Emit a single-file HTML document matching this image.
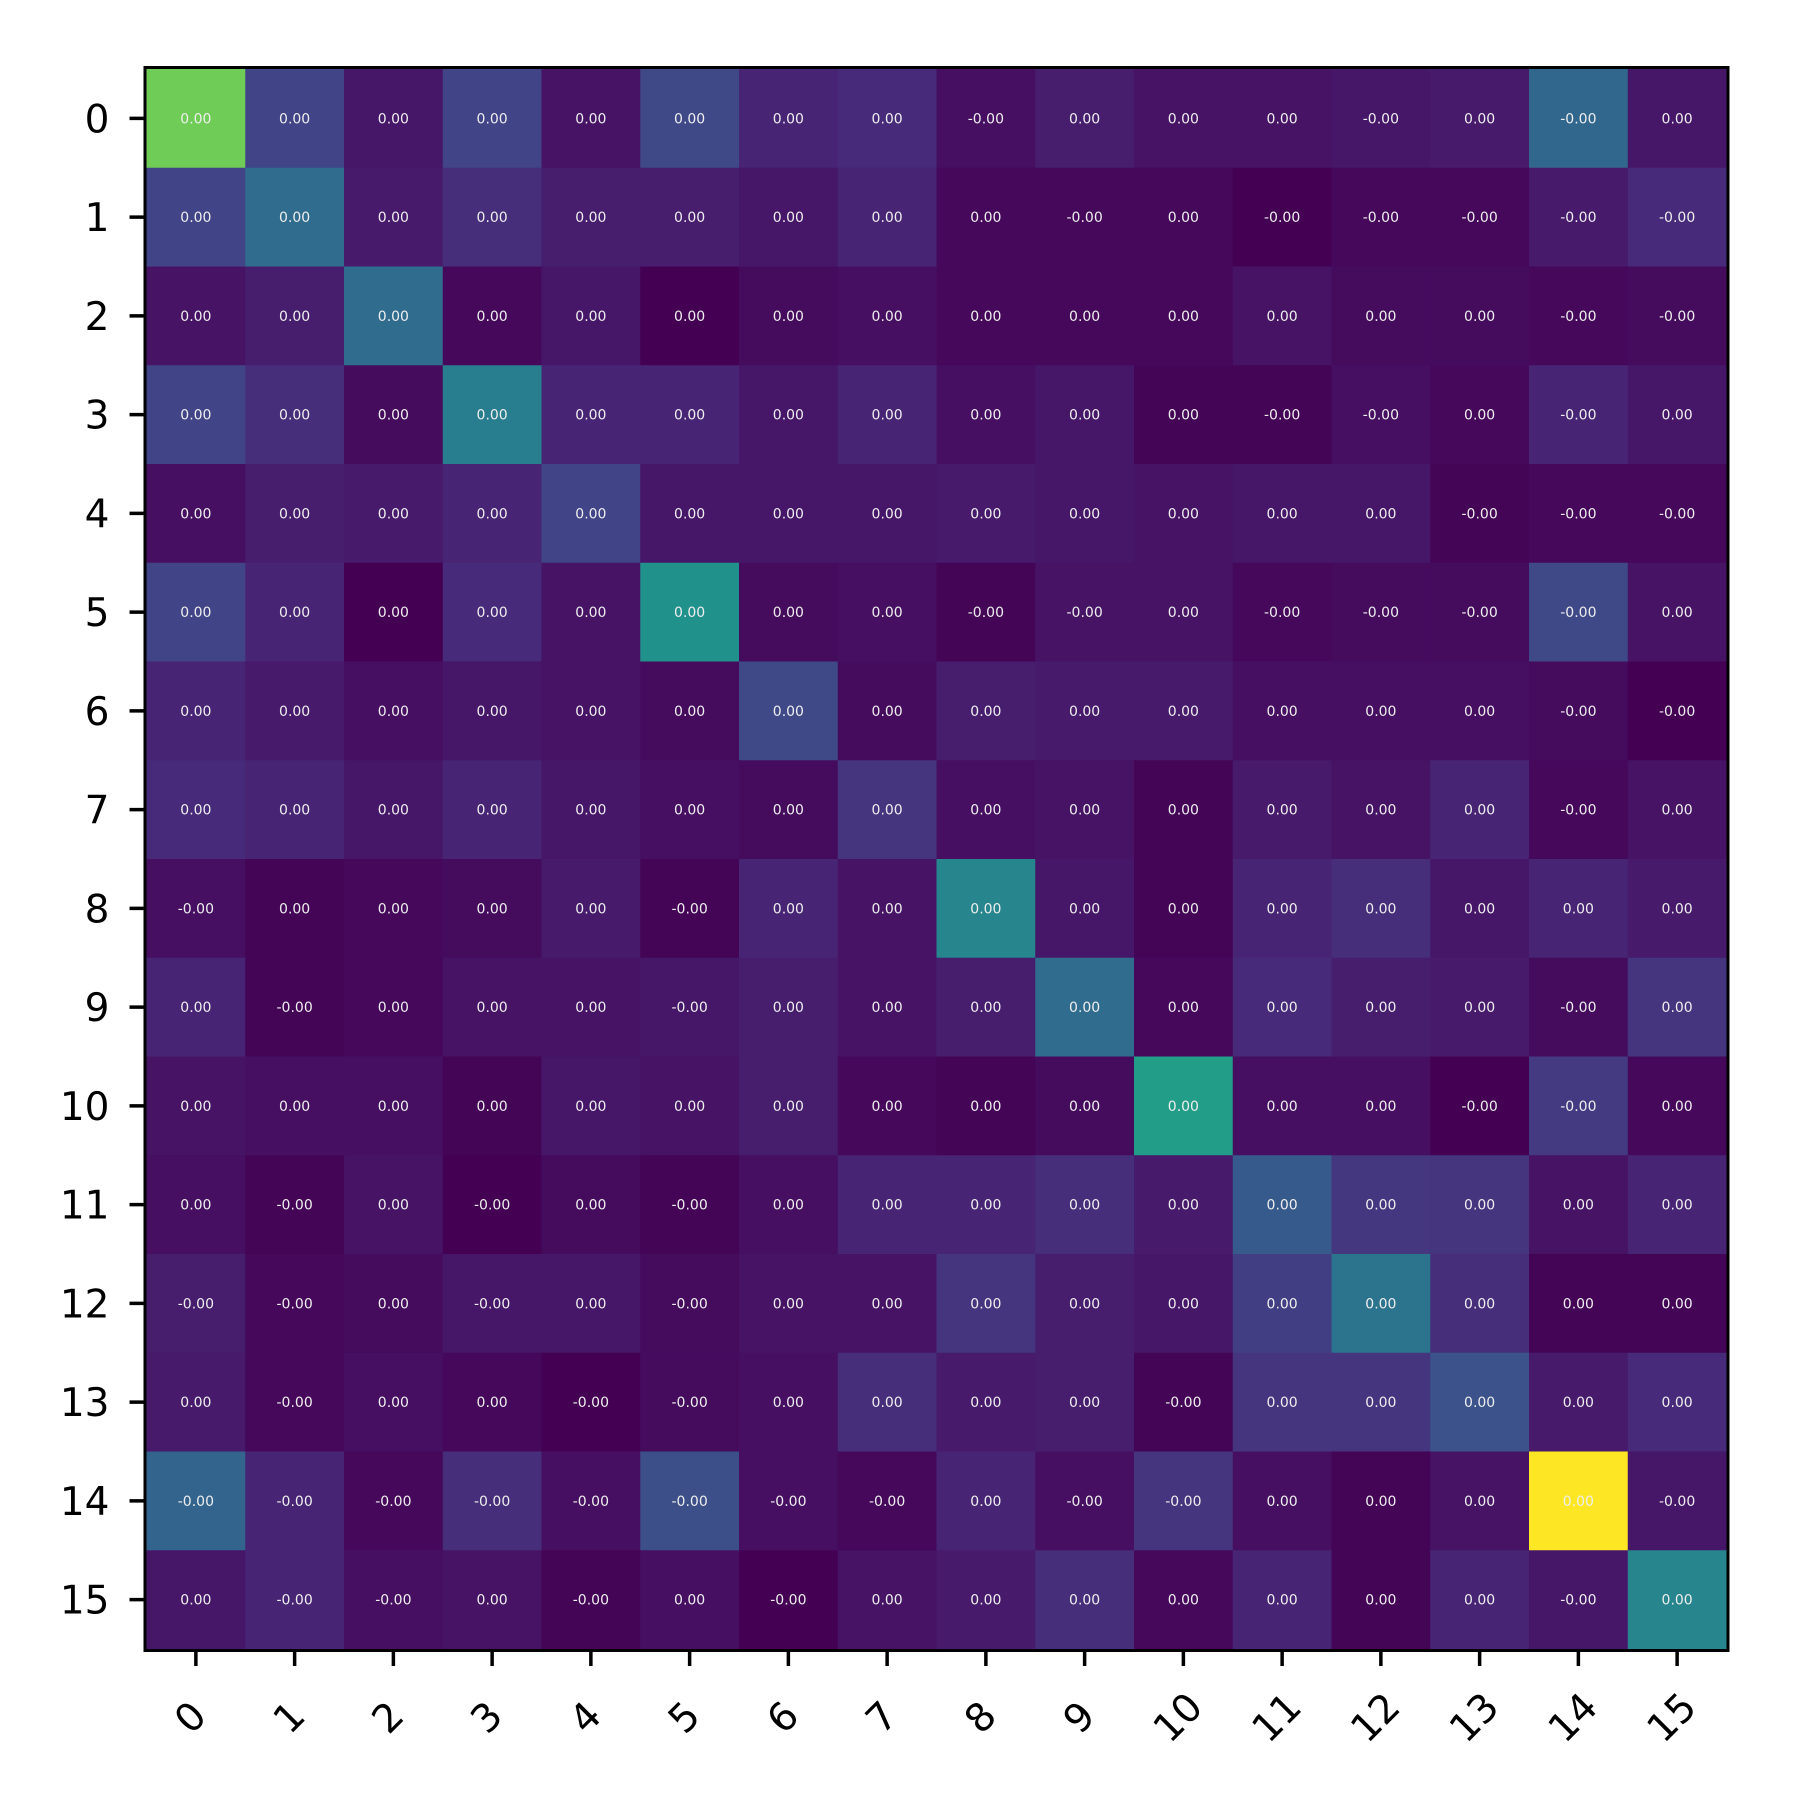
<!DOCTYPE html>
<html><head><meta charset="utf-8">
<style>
html,body{margin:0;padding:0;background:#fff;}
svg{display:block;}
text{font-family:"DejaVu Sans","Liberation Sans",sans-serif;}
</style></head>
<body>
<svg id="chart" width="1800" height="1800" viewBox="0 0 1800 1800" xmlns="http://www.w3.org/2000/svg">
<g id="cells"></g>
<g id="labels"></g>
<g id="axes"></g>
</svg>
<script>
const rowCategories = ["0","1","2","3","4","5","6","7","8","9","10","11","12","13","14","15"];
const colCategories = ["0","1","2","3","4","5","6","7","8","9","10","11","12","13","14","15"];
const cellValues = [
[0.78,0.20,0.06,0.20,0.05,0.22,0.10,0.12,0.04,0.08,0.05,0.05,0.06,0.07,0.33,0.06],
[0.20,0.35,0.07,0.13,0.08,0.08,0.06,0.10,0.02,0.02,0.02,0.00,0.02,0.02,0.07,0.12],
[0.05,0.08,0.35,0.02,0.06,0.00,0.03,0.04,0.02,0.02,0.02,0.05,0.03,0.03,0.02,0.03],
[0.20,0.13,0.03,0.42,0.10,0.10,0.06,0.10,0.04,0.06,0.01,0.01,0.04,0.02,0.10,0.06],
[0.04,0.08,0.07,0.10,0.20,0.06,0.06,0.06,0.07,0.06,0.05,0.06,0.06,0.01,0.02,0.02],
[0.20,0.10,0.00,0.12,0.05,0.50,0.03,0.04,0.01,0.05,0.05,0.02,0.03,0.03,0.22,0.05],
[0.10,0.07,0.04,0.06,0.05,0.03,0.22,0.03,0.08,0.07,0.07,0.04,0.04,0.04,0.03,0.00],
[0.12,0.10,0.06,0.10,0.06,0.04,0.03,0.15,0.04,0.05,0.01,0.07,0.05,0.10,0.02,0.05],
[0.04,0.01,0.02,0.03,0.07,0.01,0.10,0.05,0.45,0.06,0.01,0.10,0.13,0.06,0.10,0.07],
[0.10,0.01,0.02,0.05,0.05,0.06,0.08,0.05,0.08,0.35,0.02,0.12,0.08,0.07,0.03,0.15],
[0.05,0.04,0.04,0.01,0.06,0.05,0.08,0.02,0.01,0.03,0.55,0.04,0.04,0.00,0.17,0.02],
[0.04,0.01,0.05,0.00,0.03,0.01,0.04,0.10,0.10,0.13,0.07,0.28,0.16,0.15,0.05,0.10],
[0.08,0.02,0.03,0.06,0.06,0.03,0.05,0.05,0.15,0.08,0.06,0.18,0.38,0.13,0.01,0.01],
[0.07,0.02,0.04,0.02,0.00,0.03,0.04,0.13,0.07,0.08,0.01,0.15,0.15,0.25,0.07,0.12],
[0.32,0.10,0.02,0.13,0.04,0.24,0.04,0.02,0.10,0.04,0.15,0.04,0.01,0.05,1.00,0.06],
[0.06,0.10,0.04,0.05,0.01,0.04,0.00,0.05,0.07,0.13,0.02,0.10,0.01,0.10,0.06,0.45]
];
const cellLabels = [
"0.00 0.00 0.00 0.00 0.00 0.00 0.00 0.00 -0.00 0.00 0.00 0.00 -0.00 0.00 -0.00 0.00",
"0.00 0.00 0.00 0.00 0.00 0.00 0.00 0.00 0.00 -0.00 0.00 -0.00 -0.00 -0.00 -0.00 -0.00",
"0.00 0.00 0.00 0.00 0.00 0.00 0.00 0.00 0.00 0.00 0.00 0.00 0.00 0.00 -0.00 -0.00",
"0.00 0.00 0.00 0.00 0.00 0.00 0.00 0.00 0.00 0.00 0.00 -0.00 -0.00 0.00 -0.00 0.00",
"0.00 0.00 0.00 0.00 0.00 0.00 0.00 0.00 0.00 0.00 0.00 0.00 0.00 -0.00 -0.00 -0.00",
"0.00 0.00 0.00 0.00 0.00 0.00 0.00 0.00 -0.00 -0.00 0.00 -0.00 -0.00 -0.00 -0.00 0.00",
"0.00 0.00 0.00 0.00 0.00 0.00 0.00 0.00 0.00 0.00 0.00 0.00 0.00 0.00 -0.00 -0.00",
"0.00 0.00 0.00 0.00 0.00 0.00 0.00 0.00 0.00 0.00 0.00 0.00 0.00 0.00 -0.00 0.00",
"-0.00 0.00 0.00 0.00 0.00 -0.00 0.00 0.00 0.00 0.00 0.00 0.00 0.00 0.00 0.00 0.00",
"0.00 -0.00 0.00 0.00 0.00 -0.00 0.00 0.00 0.00 0.00 0.00 0.00 0.00 0.00 -0.00 0.00",
"0.00 0.00 0.00 0.00 0.00 0.00 0.00 0.00 0.00 0.00 0.00 0.00 0.00 -0.00 -0.00 0.00",
"0.00 -0.00 0.00 -0.00 0.00 -0.00 0.00 0.00 0.00 0.00 0.00 0.00 0.00 0.00 0.00 0.00",
"-0.00 -0.00 0.00 -0.00 0.00 -0.00 0.00 0.00 0.00 0.00 0.00 0.00 0.00 0.00 0.00 0.00",
"0.00 -0.00 0.00 0.00 -0.00 -0.00 0.00 0.00 0.00 0.00 -0.00 0.00 0.00 0.00 0.00 0.00",
"-0.00 -0.00 -0.00 -0.00 -0.00 -0.00 -0.00 -0.00 0.00 -0.00 -0.00 0.00 0.00 0.00 0.00 -0.00",
"0.00 -0.00 -0.00 0.00 -0.00 0.00 -0.00 0.00 0.00 0.00 0.00 0.00 0.00 0.00 -0.00 0.00"
];

const NS="http://www.w3.org/2000/svg";
const X0=146.5, Y0=69, W=1580, H=1580;
const nC=colCategories.length, nR=rowCategories.length;
const cw=W/nC, ch=H/nR;
const xAt=i=>X0+i*cw, yAt=j=>Y0+j*ch;
const VIR=[[68,1,84],[72,36,117],[65,68,135],[53,95,141],[42,120,142],[33,145,140],[34,168,132],[68,191,112],[122,209,81],[189,223,38],[253,231,37]];
let mn=Infinity,mx=-Infinity;
cellValues.forEach(r=>r.forEach(v=>{mn=Math.min(mn,v);mx=Math.max(mx,v);}));
function color(v){
  let t=(v-mn)/(mx-mn||1); t=Math.max(0,Math.min(1,t))*(VIR.length-1);
  const i=Math.min(Math.floor(t),VIR.length-2), f=t-i;
  const c=VIR[i].map((a,k)=>Math.round(a+(VIR[i+1][k]-a)*f));
  return `rgb(${c[0]},${c[1]},${c[2]})`;
}
function mk(tag,attrs,parent){const e=document.createElementNS(NS,tag);for(const k in attrs)e.setAttribute(k,attrs[k]);parent.appendChild(e);return e;}
const gc=document.getElementById('cells'), gl=document.getElementById('labels'), ga=document.getElementById('axes');
for(let r=0;r<nR;r++){
  const labs=cellLabels[r].split(' ');
  for(let c=0;c<nC;c++){
    const rect=mk('rect',{x:xAt(c),y:yAt(r),width:cw+0.6,height:ch+0.6,fill:color(cellValues[r][c])},gc);
    
    
    const t=mk('text',{x:xAt(c)+cw/2,y:yAt(r)+ch/2+5,'text-anchor':'middle','font-size':14,fill:'#eeeeee'},gl);
    t.textContent=labs[c];
    
    
  }
}
const frame=mk('rect',{x:X0-1.5,y:Y0-1.5,width:W+3,height:H+3,fill:'none',stroke:'#000','stroke-width':3},ga);


for(let r=0;r<nR;r++){
  const y=yAt(r)+ch/2;
  const tk=mk('line',{x1:X0-3,x2:X0-17,y1:y,y2:y,stroke:'#000','stroke-width':3.5},ga);
  
  
  const t=mk('text',{x:X0-37,y:y+14,'text-anchor':'end','font-size':39,fill:'#000'},ga);
  t.textContent=rowCategories[r];
  
  
}
for(let c=0;c<nC;c++){
  const x=xAt(c)+cw/2;
  const tk=mk('line',{x1:x,x2:x,y1:Y0+H+3,y2:Y0+H+17,stroke:'#000','stroke-width':3.5},ga);
  
  
  const cx=x-6, cy=Y0+H+68;
  const t=mk('text',{x:cx,y:cy+14,'text-anchor':'middle','font-size':39,fill:'#000',transform:`rotate(-45 ${cx} ${cy})`},ga);
  t.textContent=colCategories[c];
  
  
}
</script>
</body></html>
